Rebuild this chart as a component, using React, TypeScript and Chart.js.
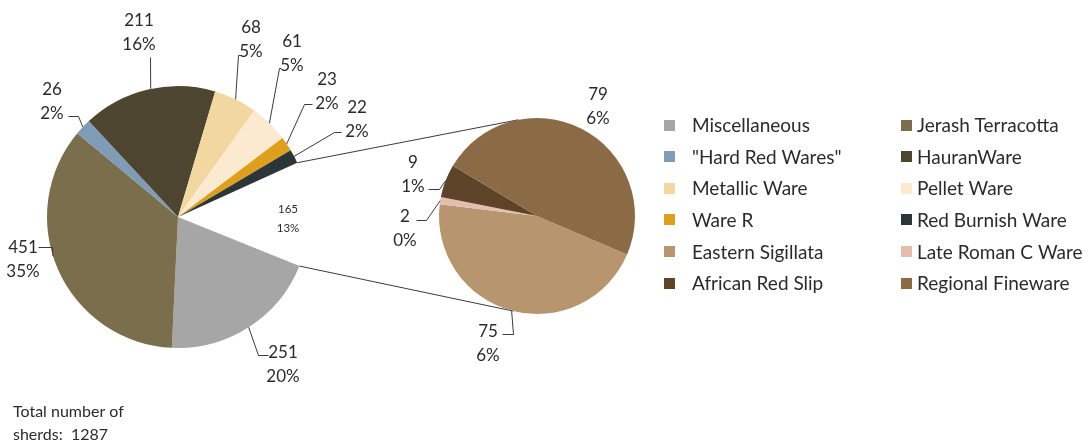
import React, { useEffect, useRef } from 'react';
import { Chart, registerables } from 'chart.js';
Chart.register(...registerables);

// ---------- data ----------
const mainLabels = ['Miscellaneous', 'Jerash Terracotta', '"Hard Red Wares"', 'HauranWare', 'Metallic Ware', 'Pellet Ware', 'Ware R', 'Red Burnish Ware', 'Other'];
const mainValues = [251, 451, 26, 211, 68, 61, 23, 22, 165];
const mainPercents = ['20%', '35%', '2%', '16%', '5%', '5%', '2%', '2%', '13%'];
const subLabels = ['Eastern Sigillata', 'Late Roman C Ware', 'African Red Slip', 'Regional Fineware'];
const subValues = [75, 2, 9, 79];
const subPercents = ['6%', '0%', '1%', '6%'];
const noteLines = ['Total number of', 'sherds:  1287'];

// ---------- styles ----------
const mainColors = ['#a6a6a6', '#7a6e4d', '#7f9bb6', '#4e4531', '#f2d8a0', '#fbead0', '#df9f1e', '#2c3537', 'rgba(0,0,0,0)'];
const subColors = ['#b6956f', '#e4bead', '#5d4429', '#8b6b45'];
const FONT = 'Lato, "Open Sans", sans-serif';
const TEXT = '#2b2b2b';
const LINE = '#3a3a3a';

type LabelLayout = { t: [number, number]; pts?: [number, number][]; frac?: number; small?: boolean };
// offsets relative to pie centre
const mainLayout: LabelLayout[] = [
  { t: [105, 136], pts: [[90, 138], [80, 138]] },
  { t: [-155, 31], pts: [[-140, 30], [-126, 30]], frac: 0.55 },
  { t: [-126, -127], pts: [[-110, -101], [-100, -101]] },
  { t: [-39, -196], pts: [[-28, -160]], frac: 0.52 },
  { t: [73, -189], pts: [[63, -162], [60, -162]] },
  { t: [114, -175], pts: [[103, -149], [101, -149]] },
  { t: [149, -137], pts: [[134, -113], [126, -113]] },
  { t: [179, -109], pts: [[163, -85], [156, -85]] },
  { t: [110, -8], small: true },
];
const subLayout: LabelLayout[] = [
  { t: [-49, 116], pts: [[-35, 118], [-24, 118]] },
  { t: [-132, 1], pts: [[-121, 4], [-111, 4]] },
  { t: [-124, -53], pts: [[-109, -27], [-98, -27]] },
  { t: [61, -121] },
];

function drawLabels(chart: any, values: number[], percents: string[], layout: LabelLayout[]) {
  const ctx = chart.ctx;
  const arcs = chart.getDatasetMeta(0).data;
  ctx.save();
  arcs.forEach((arc: any, i: number) => {
    const L = layout[i];
    const cx = arc.x, cy = arc.y;
    const fs = L.small ? 11.5 : 17;
    const lh = L.small ? 19 : 24;
    ctx.font = `${fs}px ${FONT}`;
    ctx.fillStyle = TEXT;
    ctx.textAlign = 'center';
    ctx.textBaseline = 'middle';
    const tx = cx + L.t[0], ty = cy + L.t[1];
    ctx.fillText(String(values[i]), tx, ty);
    ctx.fillText(percents[i], tx, ty + lh);
    if (L.pts) {
      const f = L.frac ?? 0.5;
      const a = arc.startAngle + (arc.endAngle - arc.startAngle) * f;
      const r = arc.outerRadius;
      ctx.strokeStyle = LINE;
      ctx.lineWidth = 1;
      ctx.beginPath();
      L.pts.forEach((p, k) => {
        if (k === 0) ctx.moveTo(cx + p[0] + 0.5, cy + p[1] + 0.5);
        else ctx.lineTo(cx + p[0] + 0.5, cy + p[1] + 0.5);
      });
      ctx.lineTo(cx + r * Math.cos(a), cy + r * Math.sin(a));
      ctx.stroke();
    }
  });
  ctx.restore();
}

export default function App() {
  const mainRef = useRef<HTMLCanvasElement>(null);
  const subRef = useRef<HTMLCanvasElement>(null);

  useEffect(() => {
    document.body.style.margin = '0';
    const subChart = new Chart(subRef.current!, {
      type: 'pie',
      data: { labels: subLabels, datasets: [{ data: subValues, backgroundColor: subColors, borderWidth: 0 }] },
      options: {
        responsive: false,
        animation: false,
        rotation: 113.2,
        layout: { padding: { left: 439, right: 456, top: 118, bottom: 130 } },
        plugins: { legend: { display: false }, tooltip: { enabled: false } },
      },
      plugins: [{
        id: 'subLabels',
        afterDraw(chart: any) { drawLabels(chart, subValues, subPercents, subLayout); },
      }],
    });

    const mainChart = new Chart(mainRef.current!, {
      type: 'pie',
      data: { labels: mainLabels, datasets: [{ data: mainValues, backgroundColor: mainColors, borderWidth: 0 }] },
      options: {
        responsive: false,
        animation: false,
        rotation: 112,
        layout: { padding: { left: 47, right: 782, top: 86, bottom: 96 } },
        plugins: { legend: { display: false }, tooltip: { enabled: false } },
      },
      plugins: [{
        id: 'mainExtras',
        afterDraw(chart: any) {
          const ctx = chart.ctx;
          drawLabels(chart, mainValues, mainPercents, mainLayout);
          // connector lines to the secondary pie
          const arcs = chart.getDatasetMeta(0).data;
          const other = arcs[arcs.length - 1];
          const sArc = subChart.getDatasetMeta(0).data[0] as any;
          const sx = sArc.x, sy = sArc.y, sr = sArc.outerRadius;
          const mx = other.x, my = other.y, mr = other.outerRadius;
          const topA = (-101 * Math.PI) / 180, botA = (104 * Math.PI) / 180;
          ctx.save();
          ctx.strokeStyle = LINE;
          ctx.lineWidth = 1;
          ctx.beginPath();
          ctx.moveTo(mx + mr * Math.cos(other.startAngle), my + mr * Math.sin(other.startAngle));
          ctx.lineTo(sx + sr * Math.cos(topA), sy + sr * Math.sin(topA));
          ctx.moveTo(mx + mr * Math.cos(other.endAngle), my + mr * Math.sin(other.endAngle));
          ctx.lineTo(sx + sr * Math.cos(botA), sy + sr * Math.sin(botA));
          ctx.stroke();

          // legend
          const items: { label: string; color: string }[] = [];
          mainLabels.forEach((l, i) => { if (i < mainLabels.length - 1) items.push({ label: l, color: mainColors[i] }); });
          subLabels.forEach((l, i) => items.push({ label: l, color: subColors[i] }));
          ctx.font = `19px ${FONT}`;
          ctx.textBaseline = 'middle';
          ctx.textAlign = 'left';
          items.forEach((it, i) => {
            const col = i % 2, row = Math.floor(i / 2);
            const y = 125 + row * 31.6;
            const bx = col === 0 ? 664 : 901;
            const tx = col === 0 ? 692 : 917;
            ctx.fillStyle = it.color;
            ctx.fillRect(bx, Math.round(y - 5.5), 11, 11);
            ctx.fillStyle = TEXT;
            ctx.fillText(it.label, tx, y + 1);
          });

          // note
          ctx.font = `16px ${FONT}`;
          ctx.fillStyle = TEXT;
          noteLines.forEach((t, i) => ctx.fillText(t, 13, 412 + i * 23));
          ctx.restore();
        },
      }],
    });

    return () => { mainChart.destroy(); subChart.destroy(); };
  }, []);

  return (
    <div style={{ position: 'relative', width: 1091, height: 444, background: '#fff' }}>
      <canvas ref={mainRef} width={1091} height={444} style={{ position: 'absolute', left: 0, top: 0 }} />
      <canvas ref={subRef} width={1091} height={444} style={{ position: 'absolute', left: 0, top: 0 }} />
    </div>
  );
}
